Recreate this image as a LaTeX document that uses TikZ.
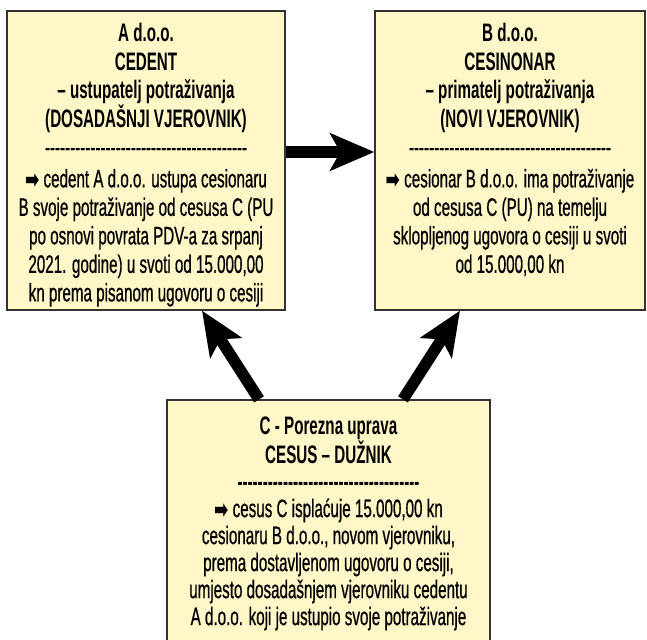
\documentclass[tikz,border=0pt]{standalone}
\usepackage{fontspec}
\usepackage{graphicx}
\setmainfont[FakeStretch=0.6, UprightFeatures={FakeBold=0.6}]{Liberation Sans}
\newfontfamily\symfont{DejaVu Sans}
\usetikzlibrary{arrows.meta}
\definecolor{boxfill}{RGB}{255,247,200}
\definecolor{boxline}{RGB}{50,50,50}
\newcommand\rarrowsym{\raisebox{-1pt}{\scalebox{1}[1.5]{\symfont\bfseries\fontsize{17}{17}\selectfont ➡}}}
\newcommand\dashrow[1]{\foreach \i in {1,...,#1}{-\kern0pt}}
\tikzset{
  box/.style={draw=boxline, line width=1.3pt, fill=boxfill, inner sep=0pt},
  txt/.style={inner sep=0pt, align=center, font=\fontsize{25.3}{28.5}\selectfont},
  txtc/.style={inner sep=0pt, align=center, font=\fontsize{25.3}{27}\selectfont},
  bigarrow/.style={line width=11.5pt, -{Stealth[length=44pt, width=37pt, inset=10pt]}}
}
\begin{document}
\begin{tikzpicture}[x=1pt, y=-1pt]
\clip (0,0) rectangle (647,639);
\fill[white] (0,0) rectangle (647,639);

\node[box, minimum width=278pt, minimum height=299pt] (A) at (146,160.5) {};
\node[box, minimum width=270pt, minimum height=299pt] (B) at (510,160.5) {};
\node[box, minimum width=323pt, minimum height=280pt] (C) at (328.5,540) {};

\node[txt, anchor=north] (At) at ([yshift=-13pt]A.north) {%
\textbf{A d.o.o.}\\
\textbf{CEDENT}\\
\textbf{– ustupatelj potraživanja}\\
\textbf{(DOSADAŠNJI VJEROVNIK)}\\
\dashrow{40}\\[3pt]
\rarrowsym{} cedent A d.o.o. ustupa cesionaru\\
B svoje potraživanje od cesusa C (PU\\
po osnovi povrata PDV-a za srpanj\\
2021. godine) u svoti od 15.000,00\\
kn prema pisanom ugovoru o cesiji};

\node[txt, anchor=north] (Bt) at ([yshift=-13pt]B.north) {%
\textbf{B d.o.o.}\\
\textbf{CESINONAR}\\
\textbf{– primatelj potraživanja}\\
\textbf{(NOVI VJEROVNIK)}\\
\dashrow{40}\\[3pt]
\rarrowsym{} cesionar B d.o.o. ima potraživanje\\
od cesusa C (PU) na temelju\\
sklopljenog ugovora o cesiji u svoti\\
od 15.000,00 kn};

\node[txtc, anchor=north] (Ct) at ([yshift=-17pt]C.north) {%
\textbf{C - Porezna uprava}\\
\textbf{CESUS – DUŽNIK}\\
\textbf{\dashrow{36}}\\
\rarrowsym{} cesus C isplaćuje 15.000,00 kn\\
cesionaru B d.o.o., novom vjerovniku,\\
prema dostavljenom ugovoru o cesiji,\\
umjesto dosadašnjem vjerovniku cedentu\\
A d.o.o. koji je ustupio svoje potraživanje};

\draw[bigarrow] ([yshift=8.5pt]A.east) -- ([yshift=8.5pt]B.west);
\draw[bigarrow] ([xshift=-69.5pt]C.north) -- ([xshift=56pt]A.south);
\draw[bigarrow] ([xshift=74.5pt]C.north) -- ([xshift=-50pt]B.south);
\end{tikzpicture}
\end{document}
